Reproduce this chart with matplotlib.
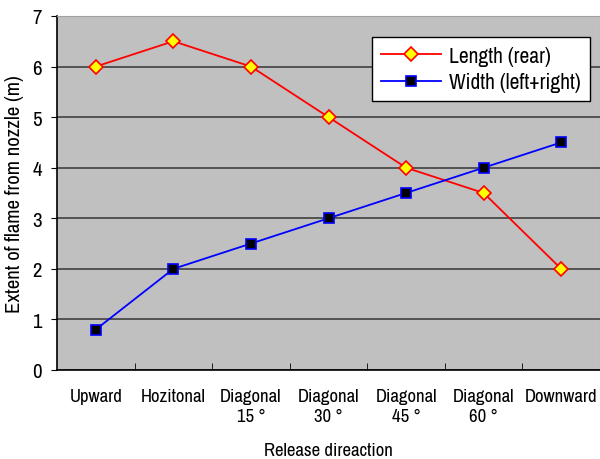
import matplotlib
matplotlib.use("Agg")
import matplotlib.pyplot as plt

plt.rcParams['font.family'] = ['Archivo Narrow', 'DejaVu Sans']

categories = ["Upward", "Hozitonal", "Diagonal\n15 °", "Diagonal\n30 °",
              "Diagonal\n45 °", "Diagonal\n60 °", "Downward"]
length_rear = [6, 6.5, 6, 5, 4, 3.5, 2]
width_lr = [0.8, 2, 2.5, 3, 3.5, 4, 4.5]
yticks = [0, 1, 2, 3, 4, 5, 6, 7]

fig = plt.figure(figsize=(6, 4.6), dpi=100)
ax = fig.add_axes([0.095, 0.1935, 0.905, 0.7696])
ax.set_facecolor("#c0c0c0")
x = list(range(len(categories)))

ax.plot(x, length_rear, color="red", lw=1.3, marker="D", markersize=7,
        markerfacecolor="yellow", markeredgecolor="red", markeredgewidth=1.2,
        label="Length (rear)", zorder=3)
ax.plot(x, width_lr, color="blue", lw=1.3, marker="s", markersize=6.5,
        markerfacecolor="black", markeredgecolor="blue", markeredgewidth=1.2,
        label="Width (left+right)", zorder=3)

ax.set_xlim(-0.5, len(categories) - 0.5)
ax.set_ylim(0, 7)
ax.set_yticks(yticks)
ax.set_yticklabels([str(v) for v in yticks], fontsize=15)
ax.yaxis.grid(True, color="#404040", lw=1.2)
ax.set_axisbelow(True)
ax.set_xticks(x)
ax.set_xticklabels(categories, fontsize=13.5, linespacing=1.3)
ax.set_xticks([i + 0.5 for i in x[:-1]], minor=True)
ax.tick_params(axis='x', which='major', length=0, pad=13)
ax.tick_params(axis='x', which='minor', length=5, direction='in', color='black')
ax.tick_params(axis='y', length=4, direction='out', pad=7)

for s in ['top', 'right']:
    ax.spines[s].set_color("#a0a0a0")
ax.spines['left'].set_color("black")
ax.spines['bottom'].set_color("black")
ax.spines['left'].set_linewidth(1.2)
ax.spines['bottom'].set_linewidth(1.2)

ax.set_ylabel("Extent of flame from nozzle (m)", fontsize=15, labelpad=6)
ax.set_xlabel("Release direaction", fontsize=13.5, labelpad=13)

leg = ax.legend(loc="upper left", bbox_to_anchor=(0.58, 0.94), fontsize=15.5,
                frameon=True, fancybox=False, edgecolor="black", framealpha=1,
                borderpad=0.4, handlelength=2.8, handletextpad=0.4,
                labelspacing=0.3, borderaxespad=0.0)
leg.get_frame().set_linewidth(1.0)

fig.savefig("out.png", dpi=100)
